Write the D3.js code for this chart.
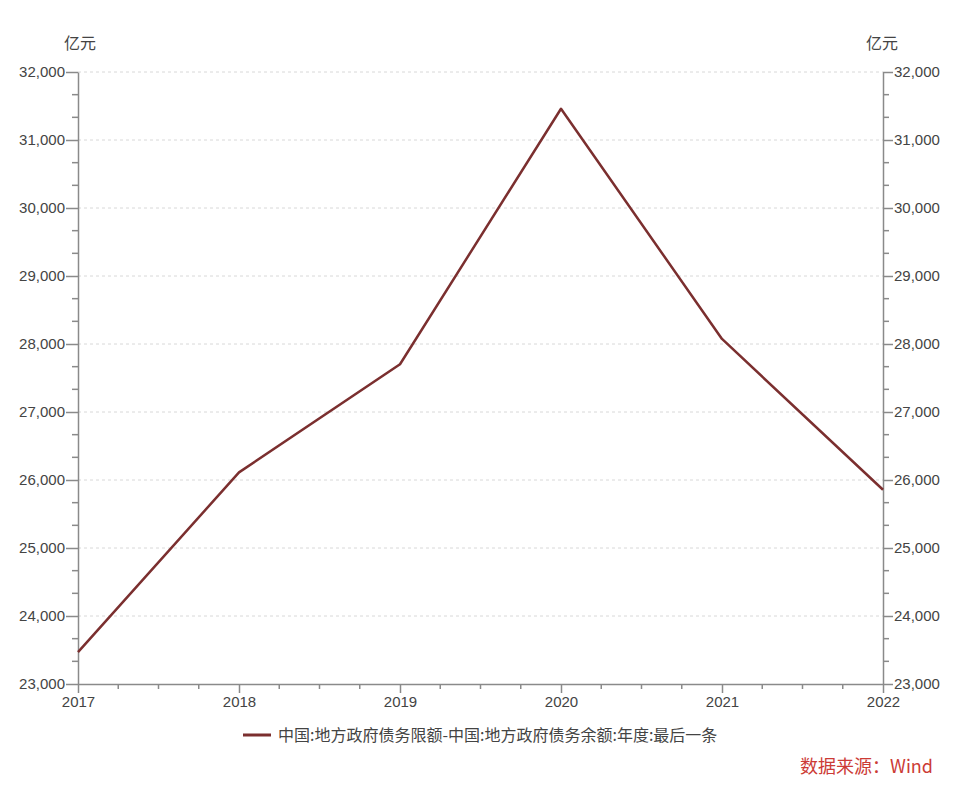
<!DOCTYPE html>
<html><head><meta charset="utf-8">
<script src="https://cdn.jsdelivr.net/npm/d3@7"></script>
<style>body{margin:0;background:#fff;}svg{display:block;font-family:"Open Sans","Noto Sans CJK SC",sans-serif;}</style>
</head><body>
<svg id="c" width="960" height="785"></svg>
<script>
const years = [2017, 2018, 2019, 2020, 2021, 2022];
const values = [23467.7, 26112.3, 27702.3, 31459.3, 28074.3, 25856.3];
const yTicks = [23000, 24000, 25000, 26000, 27000, 28000, 29000, 30000, 31000, 32000];
const unitLabel = "亿元";
const seriesName = "中国:地方政府债务限额-中国:地方政府债务余额:年度:最后一条";
const sourceText = "数据来源：Wind";

const svg = d3.select("#c");
const L = 78, R = 883, T = 72, B = 684;
const x = d3.scaleLinear().domain([2017, 2022]).range([L, R]);
const y = d3.scaleLinear().domain([23000, 32000]).range([B, T]);
const axisColor = "#8a8a8a", textColor = "#444";

// grid
svg.append("g").selectAll("line").data(yTicks.slice(1)).join("line")
  .attr("x1", L).attr("x2", R).attr("y1", d => y(d)).attr("y2", d => y(d))
  .attr("stroke", "#d8d8d8").attr("stroke-dasharray", "3,3").attr("stroke-width", 1);

// minor ticks
const minorY = [];
for (let v = 23000; v < 32000; v += 1000) { minorY.push(v + 1000/3, v + 2000/3); }
const minorX = [];
for (let yr = 2017; yr < 2022; yr++) { minorX.push(yr + 0.25, yr + 0.5, yr + 0.75); }

function styleAxis(g) {
  g.selectAll("path,line").attr("stroke", axisColor).attr("stroke-width", 1.5);
  g.selectAll("text").attr("fill", textColor).style("font-size", "15px");
}

const yl = svg.append("g").attr("transform", `translate(${L},0)`)
  .call(d3.axisLeft(y).tickValues(yTicks).tickFormat(d3.format(",")).tickSize(12).tickSizeOuter(0).tickPadding(1));
styleAxis(yl);
yl.append("g").selectAll("line").data(minorY).join("line")
  .attr("x1", 0).attr("x2", -6).attr("y1", d => y(d)).attr("y2", d => y(d))
  .attr("stroke", axisColor).attr("stroke-width", 1.5);

const yr = svg.append("g").attr("transform", `translate(${R},0)`)
  .call(d3.axisRight(y).tickValues(yTicks).tickFormat(d3.format(",")).tickSize(10).tickSizeOuter(0).tickPadding(1));
styleAxis(yr);
yr.append("g").selectAll("line").data(minorY).join("line")
  .attr("x1", 0).attr("x2", 6).attr("y1", d => y(d)).attr("y2", d => y(d))
  .attr("stroke", axisColor).attr("stroke-width", 1.5);

const xa = svg.append("g").attr("transform", `translate(0,${B})`)
  .call(d3.axisBottom(x).tickValues(years).tickFormat(d3.format("d")).tickSize(9).tickSizeOuter(0).tickPadding(3));
styleAxis(xa);
xa.append("g").selectAll("line").data(minorX).join("line")
  .attr("x1", d => x(d)).attr("x2", d => x(d)).attr("y1", 0).attr("y2", 5)
  .attr("stroke", axisColor).attr("stroke-width", 1.5);

// units
svg.append("text").attr("x", 80).attr("y", 49).attr("text-anchor", "middle")
  .attr("fill", textColor).style("font-size", "16px").style("font-family", "'Noto Sans CJK SC',sans-serif").text(unitLabel);
svg.append("text").attr("x", 882).attr("y", 49).attr("text-anchor", "middle")
  .attr("fill", textColor).style("font-size", "16px").style("font-family", "'Noto Sans CJK SC',sans-serif").text(unitLabel);

// line
const line = d3.line().x((d, i) => x(years[i])).y(d => y(d));
svg.append("path").datum(values).attr("d", line)
  .attr("fill", "none").attr("stroke", "#7b2f2f").attr("stroke-width", 2.5).attr("stroke-linejoin", "round");

// legend
svg.append("line").attr("x1", 243).attr("x2", 271).attr("y1", 735).attr("y2", 735)
  .attr("stroke", "#7b2f2f").attr("stroke-width", 3);
svg.append("text").attr("x", 278).attr("y", 741).attr("fill", textColor)
  .style("font-size", "16px").style("font-family", "'Noto Sans CJK SC',sans-serif").text(seriesName);

// source
svg.append("text").attr("x", 933).attr("y", 773).attr("text-anchor", "end").attr("fill", "#cc3b36")
  .style("font-size", "18px").style("font-family", "'Noto Sans CJK SC',sans-serif").text(sourceText);
</script>
</body></html>
